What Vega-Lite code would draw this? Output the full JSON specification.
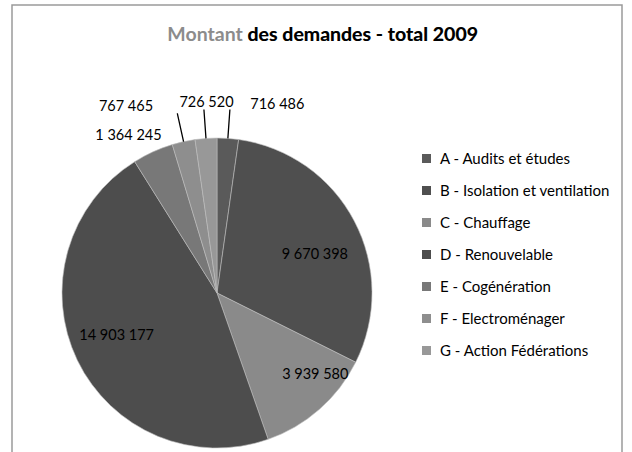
{
  "$schema": "https://vega.github.io/schema/vega-lite/v6.json",
  "width": 610,
  "height": 460,
  "autosize": {"type": "none"},
  "padding": {"left": 12, "top": 5, "right": 10, "bottom": 0},
  "background": "white",
  "config": {
    "view": {"stroke": null},
    "font": "Lato",
    "locale": {"number": {"decimal": ",", "thousands": " ", "grouping": [3], "currency": ["", " €"]}}
  },
  "title": {
    "text": "Montant des demandes - total 2009",
    "subtitle": "des demandes - total 2009",
    "anchor": "middle",
    "align": "right",
    "dx": 161,
    "offset": -41.5,
    "frame": "group",
    "font": "Lato",
    "fontSize": 19.5,
    "fontWeight": "bold",
    "color": "#8c8c8c",
    "subtitleFont": "Lato",
    "subtitleFontSize": 19.5,
    "subtitleFontWeight": "bold",
    "subtitleColor": "#000000",
    "subtitlePadding": -19.5
  },
  "data": {
    "values": [
      {"cat": "A - Audits et études", "montant": 716486},
      {"cat": "B - Isolation  et ventilation", "montant": 9670398},
      {"cat": "C - Chauffage", "montant": 3939580},
      {"cat": "D - Renouvelable", "montant": 14903177},
      {"cat": "E - Cogénération", "montant": 1364245},
      {"cat": "F - Electroménager", "montant": 767465},
      {"cat": "G - Action Fédérations", "montant": 726520}
    ]
  },
  "layer": [
    {
      "data": {"values": [{"frame": 1}]},
      "mark": {"type": "rect", "fill": "transparent", "stroke": "#9a9a9a", "strokeWidth": 1.5},
      "encoding": {}
    },
    {
      "encoding": {
        "theta": {"field": "montant", "type": "quantitative", "stack": true},
        "order": {"field": "cat", "type": "nominal", "sort": "ascending"}
      },
      "layer": [
        {
          "mark": {"type": "arc", "radius": 155, "x": 205, "y": 288, "stroke": "#bdbdbd", "strokeWidth": 0.6},
          "encoding": {
            "color": {
              "field": "cat",
              "type": "nominal",
              "scale": {
                "domain": ["A - Audits et études", "B - Isolation  et ventilation", "C - Chauffage", "D - Renouvelable", "E - Cogénération", "F - Electroménager", "G - Action Fédérations"],
                "range": ["#5a5a5a", "#4f4f4f", "#8a8a8a", "#4d4d4d", "#787878", "#8e8e8e", "#989898"]
              },
              "legend": {
                "orient": "none",
                "legendX": 407,
                "legendY": 146,
                "title": null,
                "symbolType": "square",
                "symbolSize": 81,
                "symbolStrokeWidth": 0,
                "labelFont": "Lato",
                "labelFontSize": 15,
                "labelColor": "#000000",
                "labelOffset": 6,
                "labelLimit": 300,
                "rowPadding": 16,
                "padding": 0
              }
            }
          }
        },
        {
          "mark": {"type": "arc", "radius": 184, "radius2": 155, "x": 205, "y": 288, "padAngle": 3.14, "fill": "transparent", "stroke": "#000000", "strokeWidth": 1.3},
          "encoding": {
            "strokeOpacity": {
              "condition": {"test": "indexof(['A','F','G'], slice(datum.cat, 0, 1)) >= 0", "value": 1},
              "value": 0
            }
          }
        },
        {
          "mark": {"type": "text", "radius": 106, "x": 205, "y": 288, "dx": 4, "dy": 11, "font": "Lato", "fontSize": 14.5, "color": "#000000", "baseline": "middle", "align": "center"},
          "encoding": {"text": {"condition": {"test": "slice(datum.cat, 0, 1) === 'B'", "field": "montant", "type": "quantitative", "format": ",d"}, "value": ""}}
        },
        {
          "mark": {"type": "text", "radius": 126, "x": 205, "y": 288, "dx": 15, "dy": -13, "font": "Lato", "fontSize": 14.5, "color": "#000000", "baseline": "middle", "align": "center"},
          "encoding": {"text": {"condition": {"test": "slice(datum.cat, 0, 1) === 'C'", "field": "montant", "type": "quantitative", "format": ",d"}, "value": ""}}
        },
        {
          "mark": {"type": "text", "radius": 108, "x": 205, "y": 288, "dx": -3, "dy": -4, "font": "Lato", "fontSize": 14.5, "color": "#000000", "baseline": "middle", "align": "center"},
          "encoding": {"text": {"condition": {"test": "slice(datum.cat, 0, 1) === 'D'", "field": "montant", "type": "quantitative", "format": ",d"}, "value": ""}}
        },
        {
          "mark": {"type": "text", "radius": 190, "x": 205, "y": 288, "dx": 47, "dy": 2, "font": "Lato", "fontSize": 14.5, "color": "#000000", "baseline": "middle", "align": "center"},
          "encoding": {"text": {"condition": {"test": "slice(datum.cat, 0, 1) === 'A'", "field": "montant", "type": "quantitative", "format": ",d"}, "value": ""}}
        },
        {
          "mark": {"type": "text", "radius": 190, "x": 205, "y": 288, "dx": 3, "dy": 0, "font": "Lato", "fontSize": 14.5, "color": "#000000", "baseline": "middle", "align": "center"},
          "encoding": {"text": {"condition": {"test": "slice(datum.cat, 0, 1) === 'G'", "field": "montant", "type": "quantitative", "format": ",d"}, "value": ""}}
        },
        {
          "mark": {"type": "text", "radius": 190, "x": 205, "y": 288, "dx": -50, "dy": 0, "font": "Lato", "fontSize": 14.5, "color": "#000000", "baseline": "middle", "align": "center"},
          "encoding": {"text": {"condition": {"test": "slice(datum.cat, 0, 1) === 'F'", "field": "montant", "type": "quantitative", "format": ",d"}, "value": ""}}
        },
        {
          "mark": {"type": "text", "radius": 190, "x": 205, "y": 288, "dx": -10, "dy": 16, "font": "Lato", "fontSize": 14.5, "color": "#000000", "baseline": "middle", "align": "center"},
          "encoding": {"text": {"condition": {"test": "slice(datum.cat, 0, 1) === 'E'", "field": "montant", "type": "quantitative", "format": ",d"}, "value": ""}}
        }
      ]
    }
  ]
}
